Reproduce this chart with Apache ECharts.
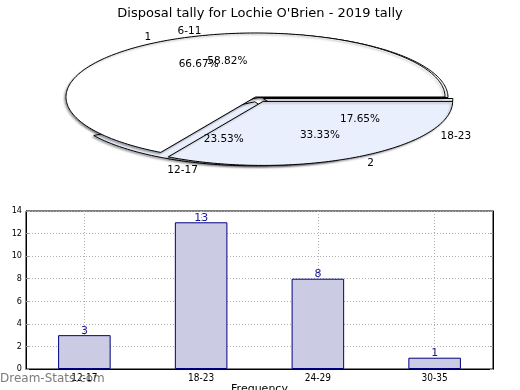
<!DOCTYPE html>
<html><head><meta charset="utf-8">
<script src="https://cdn.jsdelivr.net/npm/echarts@6/dist/echarts.min.js"></script>
<style>html,body{margin:0;padding:0;background:#fff}#c{width:520px;height:390px}</style>
</head><body><div id="c"></div>
<script>
// ---- data ----
const titleText = "Disposal tally for Lochie O'Brien - 2019 tally";
const pieANames = ['1', '2'];
const pieAValues = [2, 1];
const pieBNames = ['6-11', '12-17', '18-23'];
const pieBValues = [10, 4, 3];
const barCategories = ['12-17', '18-23', '24-29', '30-35'];
const barValues = [3, 13, 8, 1];
const yAxisName = 'Stat Intervals';
const xAxisName = 'Frequency';
const watermark = 'Dream-Stats.com';

// ---- layout / style ----
const RX = 189.5, RY = 64;
const centerA = [255.5, 97];
const centerB = [258.5, 97.5];
const pieColors = ['#ffffff', '#e9effc'];
const explodeA = [0, 0.08];
const explodeB = [0, 0.07, 0.03];
const FONT = '"DejaVu Sans", sans-serif';
const NARROW = '"Liberation Sans Narrow", "DejaVu Sans Condensed", sans-serif';

function geom(values, explode, center, i) {
  const total = values.reduce((a, b) => a + b, 0);
  let start = 0;
  for (let k = 0; k < i; k++) start += values[k];
  const a0 = start / total * 2 * Math.PI;
  const a1 = (start + values[i]) / total * 2 * Math.PI;
  const mid = (a0 + a1) / 2;
  const cx = center[0] + explode[i] * RX * Math.cos(mid);
  const cy = center[1] - explode[i] * RY * Math.sin(mid);
  return { total, a0, a1, mid, cx, cy };
}

function pieShapes(values, explode, center, z) {
  return {
    type: 'custom', coordinateSystem: 'none', z: z, silent: true,
    data: values.map(v => [v]),
    renderItem(params, api) {
      const i = params.dataIndex;
      const g = geom(values, explode, center, i);
      const pts = [[g.cx, g.cy]];
      const n = Math.max(8, Math.ceil((g.a1 - g.a0) / 0.02));
      for (let k = 0; k <= n; k++) {
        const t = g.a0 + (g.a1 - g.a0) * k / n;
        pts.push([g.cx + RX * Math.cos(t), g.cy - RY * Math.sin(t)]);
      }
      return {
        type: 'polygon', shape: { points: pts },
        style: {
          fill: pieColors[i % pieColors.length], stroke: '#000', lineWidth: 1,
          shadowBlur: 2, shadowColor: 'rgba(0,0,0,0.3)', shadowOffsetX: -1.5, shadowOffsetY: 1.5
        }
      };
    }
  };
}

function pieLabels(names, values, explode, center, z) {
  return {
    type: 'custom', coordinateSystem: 'none', z: z, silent: true,
    data: values.map(v => [v]),
    renderItem(params, api) {
      const i = params.dataIndex;
      const g = geom(values, explode, center, i);
      const c = Math.cos(g.mid), s = Math.sin(g.mid);
      const lx = g.cx + 1.1 * RX * c, ly = g.cy - 1.1 * RY * s;
      const px = g.cx + 0.6 * RX * c, py = g.cy - 0.6 * RY * s;
      const pct = (values[i] / g.total * 100).toFixed(2) + '%';
      return {
        type: 'group',
        children: [
          { type: 'text', x: lx, y: ly + 1, style: { text: names[i], fill: '#000', fontSize: 10.5, fontFamily: FONT, align: c < 0 ? 'right' : 'left', verticalAlign: 'middle' } },
          { type: 'text', x: px, y: py + 1, style: { text: pct, fill: '#000', fontSize: 10.5, fontFamily: FONT, align: 'center', verticalAlign: 'middle' } }
        ]
      };
    }
  };
}

const chart = echarts.init(document.getElementById('c'), null, { renderer: 'canvas' });
chart.setOption({
  animation: false,
  backgroundColor: '#fff',
  title: {
    text: titleText, left: 'center', top: 2,
    textStyle: { fontSize: 13, fontWeight: 'normal', color: '#000', fontFamily: FONT }
  },
  graphic: [{
    type: 'text', left: 0, top: 373, z: 100,
    style: { text: watermark, fontSize: 12, fontFamily: FONT, fill: 'rgba(100,100,100,0.85)' }
  }],
  grid: { left: 26, top: 211, width: 467, height: 158, containLabel: false, outerBoundsMode: 'none', show: true, borderColor: '#000', borderWidth: 1, backgroundColor: 'transparent' },
  xAxis: {
    type: 'category', data: barCategories, boundaryGap: true,
    axisLine: { lineStyle: { color: '#000', width: 1 } },
    axisTick: { show: false },
    axisLabel: { fontSize: 10, color: '#000', margin: 4, fontFamily: NARROW },
    splitLine: { show: true, alignWithLabel: true, lineStyle: { color: '#b0b0b0', type: [1, 2], width: 1 } },
    name: xAxisName, nameLocation: 'middle', nameGap: 13,
    nameTextStyle: { fontSize: 11, color: '#000', fontFamily: FONT }
  },
  yAxis: [{
    type: 'value', min: 0, max: 14, interval: 2,
    axisLine: { show: true, lineStyle: { color: '#000' } },
    axisTick: { show: true, inside: true, length: 3, lineStyle: { color: '#999' } },
    axisLabel: { fontSize: 9, color: '#000', margin: 4, fontFamily: NARROW },
    splitLine: { show: true, lineStyle: { color: '#b0b0b0', type: [1, 2], width: 1 } },
    name: yAxisName, nameLocation: 'middle', nameGap: 15, nameRotate: 90,
    nameTextStyle: { fontSize: 11, color: '#000', fontFamily: FONT }
  }, {
    type: 'value', min: 0, max: 14, interval: 2, position: 'right',
    axisLine: { show: true, lineStyle: { color: '#000' } },
    axisTick: { show: true, inside: true, length: 3, lineStyle: { color: '#999' } },
    axisLabel: { show: false }, splitLine: { show: false }
  }],
  series: [
    pieShapes(pieBValues, explodeB, centerB, 1),
    pieShapes(pieAValues, explodeA, centerA, 2),
    pieLabels(pieBNames, pieBValues, explodeB, centerB, 3),
    pieLabels(pieANames, pieAValues, explodeA, centerA, 3),
    {
      type: 'bar', data: barValues, barWidth: '45%', z: 2,
      itemStyle: { color: '#cbcbe4', borderColor: '#000080', borderWidth: 1 },
      label: { show: true, position: 'top', distance: -1, color: '#1a1a9a', fontSize: 11, fontFamily: FONT }
    }
  ]
});
</script>
</body></html>
